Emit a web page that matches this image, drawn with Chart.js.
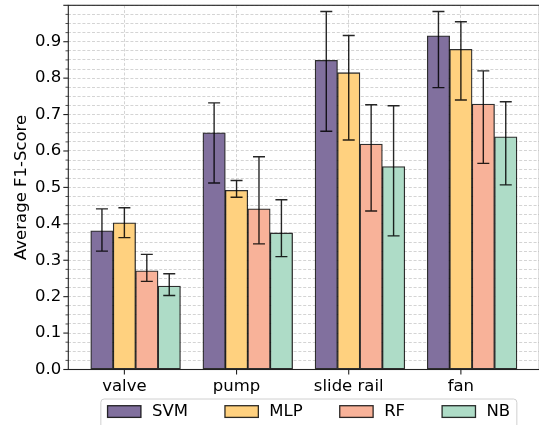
<!DOCTYPE html>
<html><head><meta charset="utf-8">
<script src="https://cdn.jsdelivr.net/npm/chart.js@4"></script>
<style>
html,body{margin:0;padding:0;overflow:hidden;background:#fff;width:539px;height:425px}
#wrap{position:absolute;left:0;top:0;width:548px;height:425px}
</style>
</head><body><div id="wrap"><canvas id="c" width="548" height="425"></canvas></div>
<script>
// ---- data ----
const categories = ['valve', 'pump', 'slide rail', 'fan'];
const seriesNames = ['SVM', 'MLP', 'RF', 'NB'];
const svmMean = [0.381, 0.650, 0.849, 0.916];
const svmLow  = [0.325, 0.512, 0.654, 0.774];
const svmHigh = [0.441, 0.732, 0.983, 0.983];
const mlpMean = [0.403, 0.492, 0.815, 0.879];
const mlpLow  = [0.362, 0.473, 0.630, 0.740];
const mlpHigh = [0.444, 0.519, 0.917, 0.955];
const rfMean  = [0.271, 0.441, 0.619, 0.729];
const rfLow   = [0.242, 0.345, 0.435, 0.566];
const rfHigh  = [0.316, 0.584, 0.727, 0.820];
const nbMean  = [0.229, 0.375, 0.557, 0.639];
const nbLow   = [0.203, 0.310, 0.367, 0.507];
const nbHigh  = [0.263, 0.466, 0.724, 0.735];
const yTickLabels = ['0.0','0.1','0.2','0.3','0.4','0.5','0.6','0.7','0.8','0.9'];

// ---- styling ----
const colors = ['#81709e', '#ffd17f', '#f8b299', '#aedcc7'];
const offsets = [-0.2, 0, 0.2, 0.4];
const means = [svmMean, mlpMean, rfMean, nbMean];
const lows = [svmLow, mlpLow, rfLow, nbLow];
const highs = [svmHigh, mlpHigh, rfHigh, nbHigh];
const FS = 16.5;
const FONT = '"DejaVu Sans", sans-serif';
const EDGE = 'rgba(0,0,0,0.82)';

const datasets = seriesNames.map((name, i) => ({
  label: name,
  data: categories.map((c, j) => ({ x: j + offsets[i], y: means[i][j] })),
  backgroundColor: colors[i],
  borderColor: EDGE,
  borderWidth: 1.3,
  borderSkipped: false,
  grouped: false,
  categoryPercentage: 1.0,
  barPercentage: 1.0
}));

const extrasPlugin = {
  id: 'extras',
  afterDatasetsDraw(chart) {
    const ctx = chart.ctx, xs = chart.scales.x, ys = chart.scales.y;
    ctx.save();
    ctx.strokeStyle = 'rgba(0,0,0,0.85)';
    ctx.lineWidth = 1.4;
    for (let i = 0; i < seriesNames.length; i++) {
      for (let j = 0; j < categories.length; j++) {
        const x = xs.getPixelForValue(j + offsets[i]);
        const y1 = ys.getPixelForValue(lows[i][j]);
        const y2 = ys.getPixelForValue(highs[i][j]);
        ctx.beginPath();
        ctx.moveTo(x, y1); ctx.lineTo(x, y2);
        ctx.moveTo(x - 6, y1); ctx.lineTo(x + 6, y1);
        ctx.moveTo(x - 6, y2); ctx.lineTo(x + 6, y2);
        ctx.stroke();
      }
    }
    ctx.restore();
  },
  afterDraw(chart) {
    const ctx = chart.ctx, ca = chart.chartArea, xs = chart.scales.x, ys = chart.scales.y;
    ctx.save();
    // spines
    ctx.strokeStyle = '#222';
    ctx.lineWidth = 1.1;
    ctx.strokeRect(ca.left, ca.top, ca.right - ca.left, ca.bottom - ca.top);
    // ticks
    ys.ticks.forEach((t, k) => {
      const y = ys.getPixelForValue(t.value);
      const major = k % 4 === 0;
      ctx.lineWidth = major ? 1.1 : 0.8;
      ctx.beginPath();
      ctx.moveTo(ca.left, y); ctx.lineTo(ca.left - (major ? 5 : 2.8), y);
      ctx.stroke();
    });
    ctx.lineWidth = 1.1;
    xs.ticks.forEach(t => {
      const x = xs.getPixelForValue(t.value);
      ctx.beginPath();
      ctx.moveTo(x, ca.bottom); ctx.lineTo(x, ca.bottom + 5);
      ctx.stroke();
    });
    // legend
    ctx.font = FS + 'px ' + FONT;
    const hw = 33.4, hh = 11.7, tp = 11, col = 37, bp = 6.7;
    const widths = seriesNames.map(n => ctx.measureText(n).width);
    const rowW = widths.reduce((a, w) => a + hw + tp + w, 0) + col * (seriesNames.length - 1);
    const cx = (ca.left + ca.right) / 2 + 5;
    const fl = cx - rowW / 2 - bp, fr = cx + rowW / 2 + bp, ft = 399, fb = ft + 2 * bp + 20;
    const r = 3.3;
    ctx.beginPath();
    ctx.moveTo(fl + r, ft); ctx.lineTo(fr - r, ft); ctx.quadraticCurveTo(fr, ft, fr, ft + r);
    ctx.lineTo(fr, fb - r); ctx.quadraticCurveTo(fr, fb, fr - r, fb);
    ctx.lineTo(fl + r, fb); ctx.quadraticCurveTo(fl, fb, fl, fb - r);
    ctx.lineTo(fl, ft + r); ctx.quadraticCurveTo(fl, ft, fl + r, ft);
    ctx.closePath();
    ctx.fillStyle = 'rgba(255,255,255,0.85)';
    ctx.fill();
    ctx.strokeStyle = '#d0d0d0';
    ctx.lineWidth = 1;
    ctx.stroke();
    let x = fl + bp;
    const hy = ft + bp;
    seriesNames.forEach((n, i) => {
      ctx.fillStyle = colors[i];
      ctx.fillRect(x, hy, hw, hh);
      ctx.strokeStyle = EDGE;
      ctx.lineWidth = 1.3;
      ctx.strokeRect(x, hy, hw, hh);
      ctx.fillStyle = '#000';
      ctx.textBaseline = 'middle';
      ctx.textAlign = 'left';
      ctx.fillText(n, x + hw + tp, hy + hh / 2 + 0.5);
      x += hw + tp + widths[i] + col;
    });
    ctx.restore();
  }
};

new Chart(document.getElementById('c'), {
  type: 'bar',
  data: { datasets },
  options: {
    responsive: false,
    animation: false,
    devicePixelRatio: 1,
    layout: { padding: { top: 5.3, right: 8.6, bottom: 25.5, left: 0 } },
    plugins: { legend: { display: false }, tooltip: { enabled: false } },
    scales: {
      x: {
        type: 'linear',
        offset: false,
        min: -0.5, max: 3.7,
        afterBuildTicks(s) { s.ticks = categories.map((c, j) => ({ value: j })); },
        afterFit(s) { s.height = 30; s.paddingLeft = 0; s.paddingRight = 0; },
        ticks: {
          callback: (v) => categories[v] !== undefined ? categories[v] : '',
          font: { size: FS, family: FONT }, color: '#000', padding: 7,
          maxRotation: 0, autoSkip: false
        },
        grid: { color: '#cfcfcf', lineWidth: 0.9, drawTicks: false, offset: false },
        border: { display: false, dash: [3, 1.8] }
      },
      y: {
        min: 0, max: 1.0,
        afterBuildTicks(s) {
          const t = [];
          for (let k = 0; k <= 40; k++) t.push({ value: Math.round(k * 25) / 1000 });
          s.ticks = t;
        },
        afterFit(s) { s.width = 68.3; s.paddingTop = 0; s.paddingBottom = 0; },
        ticks: {
          autoSkip: false,
          callback: (v, k) => (k % 4 === 0 && k / 4 < yTickLabels.length) ? yTickLabels[k / 4] : '',
          font: { size: FS, family: FONT }, color: '#000', padding: 7
        },
        grid: { color: '#cfcfcf', lineWidth: 0.9, drawTicks: false },
        border: { display: false, dash: [3, 1.8] },
        title: {
          display: true, text: 'Average F1-Score',
          font: { size: FS, family: FONT }, color: '#000',
          padding: { top: 12, bottom: 0 }
        }
      }
    }
  },
  plugins: [extrasPlugin]
});
</script>
</body></html>
